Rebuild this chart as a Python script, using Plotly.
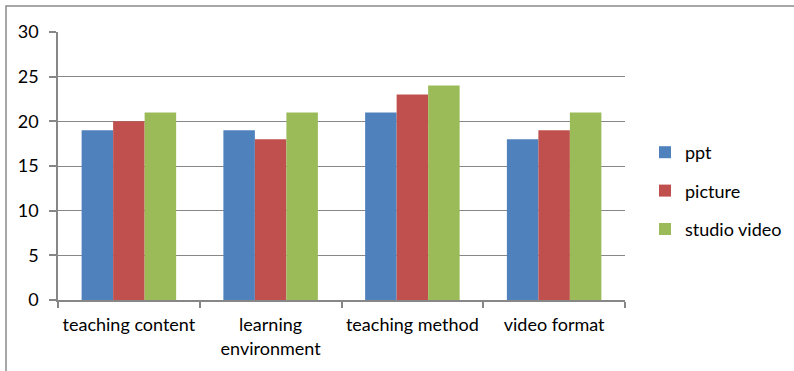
import plotly.graph_objects as go

categories = ["teaching content", "learning<br>environment", "teaching method", "video format"]
series_names = ["ppt", "picture", "studio video"]
ppt = [19, 19, 21, 18]
picture = [20, 18, 23, 19]
studio_video = [21, 21, 24, 21]
y_ticks = [0, 5, 10, 15, 20, 25, 30]

colors = ["#4F81BD", "#C0504D", "#9BBB59"]
grid = "#878787"
font = "Lato, 'Open Sans', sans-serif"
fsize = 18

W, H = 794, 371
L, R, T, B = 58, 169, 32, 71
pw, ph = W - L - R, H - T - B

fig = go.Figure()
for name, vals, col in zip(series_names, [ppt, picture, studio_video], colors):
    fig.add_trace(go.Bar(x=categories, y=vals, name=name, marker_color=col,
                         marker_line_width=0, legendgroup=name))

def px_x(p):
    return (p - L) / pw

def px_y(p):
    return (H - B - p) / ph

# outer chart frame
fig.add_shape(type="rect", xref="paper", yref="paper",
              x0=px_x(6), x1=px_x(820), y0=px_y(400), y1=px_y(6),
              line=dict(color="#8A8A8A", width=1.5), layer="below")

fig.update_layout(
    width=W, height=H,
    margin=dict(l=L, r=R, t=T, b=B, autoexpand=False),
    paper_bgcolor="white", plot_bgcolor="white",
    barmode="group", bargap=1.5 / 4.5, bargroupgap=0,
    font=dict(family=font, size=fsize, color="#000000"),
    showlegend=True,
    legend=dict(x=px_x(645), y=px_y(134), xanchor="left", yanchor="top",
                traceorder="grouped", tracegroupgap=12,
                font=dict(family=font, size=fsize, color="#000000"),
                itemwidth=30, bgcolor="rgba(0,0,0,0)"),
)
fig.update_yaxes(range=[0, 30], tickvals=y_ticks, showgrid=True, gridcolor=grid,
                 gridwidth=1.3, showline=True, linecolor=grid, linewidth=1.5,
                 ticks="outside", ticklen=7, tickcolor=grid, tickwidth=1.5,
                 ticklabelstandoff=7, zeroline=False,
                 tickfont=dict(family=font, size=fsize, color="#000000"))
fig.update_xaxes(showline=True, linecolor=grid, linewidth=1.5,
                 ticks="outside", tickson="boundaries", ticklen=6, tickcolor=grid,
                 tickwidth=1.5, showgrid=False, ticklabelstandoff=8, tickangle=0,
                 tickfont=dict(family=font, size=fsize, color="#000000"))

fig.write_html("out.html")
